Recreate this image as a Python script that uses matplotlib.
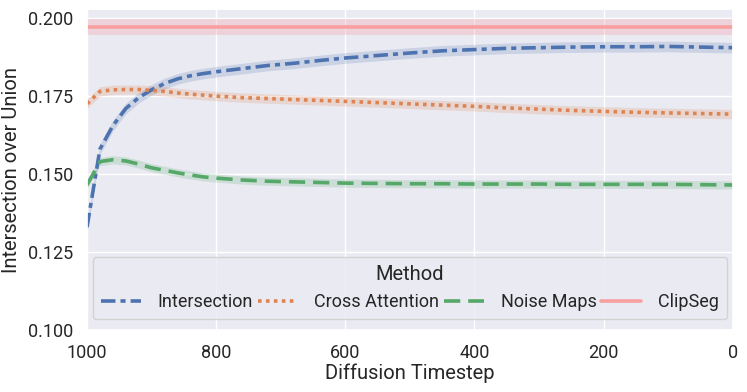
import numpy as np
import matplotlib
matplotlib.use("Agg")
import matplotlib.pyplot as plt
import seaborn as sns

sns.set_theme(style="darkgrid")
plt.rcParams['font.family'] = ['Roboto', 'DejaVu Sans']

# timesteps (x axis runs 1000 -> 0)
timesteps = [1000, 980, 960, 940, 920, 900, 880, 860, 840, 820, 800, 760, 720, 680,
             640, 600, 550, 500, 450, 400, 350, 300, 250, 200, 150, 100, 50, 0]

iou_intersection = [0.1330, 0.1580, 0.1655, 0.1710, 0.1745, 0.1770, 0.1790, 0.1805,
                    0.1815, 0.1822, 0.1828, 0.1838, 0.1848, 0.1855, 0.1864, 0.1872,
                    0.1880, 0.1888, 0.1895, 0.1899, 0.1903, 0.1905, 0.1907, 0.1908,
                    0.1908, 0.1909, 0.1907, 0.1905]
iou_cross_attn = [0.1725, 0.1765, 0.1770, 0.1771, 0.1771, 0.1768, 0.1765, 0.1760,
                  0.1756, 0.1753, 0.1750, 0.1745, 0.1742, 0.1739, 0.1736, 0.1733,
                  0.1729, 0.1725, 0.1721, 0.1717, 0.1712, 0.1708, 0.1704, 0.1701,
                  0.1698, 0.1696, 0.1694, 0.1692]
iou_noise_maps = [0.1465, 0.1540, 0.1546, 0.1542, 0.1532, 0.1520, 0.1512, 0.1504,
                  0.1497, 0.1491, 0.1487, 0.1481, 0.1477, 0.1475, 0.1473, 0.1471,
                  0.1470, 0.1469, 0.1469, 0.1468, 0.1468, 0.1468, 0.1467, 0.1467,
                  0.1467, 0.1467, 0.1466, 0.1465]
iou_clipseg = 0.1971

# half-width of the shaded confidence bands
err_intersection = 0.0017
err_cross_attn = 0.0015
err_noise_maps = 0.0013
err_clipseg = 0.0025

x_ticks = [1000, 800, 600, 400, 200, 0]
y_ticks = [0.100, 0.125, 0.150, 0.175, 0.200]

pal = sns.color_palette("deep")
clip_color = "#f8a0a0"

fig = plt.figure(figsize=(7.47, 3.92), dpi=100)
ax = fig.add_axes([0.1165, 0.158, 0.8645, 0.819])

t = np.array(timesteps)
series = [
    ("Intersection", iou_intersection, err_intersection, pal[0], (0, (4, 1.4, 1.4, 1.4))),
    ("Cross Attention", iou_cross_attn, err_cross_attn, pal[1], (0, (1, 1.2))),
    ("Noise Maps", iou_noise_maps, err_noise_maps, pal[2], (0, (4.5, 2.2))),
]
for name, vals, err, col, ls in series:
    v = np.array(vals)
    ax.fill_between(t, v - err, v + err, color=col, alpha=0.2, lw=0)
    ax.plot(t, v, color=col, ls=ls, lw=2.6, label=name)

ax.axhspan(iou_clipseg - err_clipseg, iou_clipseg + err_clipseg, color="#f4b6bf", alpha=0.45, lw=0)
ax.axhline(iou_clipseg, color=clip_color, lw=2.6, label="ClipSeg")

ax.set_xlim(1000, 0)
ax.set_ylim(0.100, 0.2029)
ax.set_xticks(x_ticks)
ax.set_yticks(y_ticks)
ax.set_yticklabels([f"{y:.3f}" for y in y_ticks])
ax.tick_params(axis='both', labelsize=13, pad=4)
ax.set_xlabel("Diffusion Timestep", fontsize=14.5, labelpad=1)
ax.set_ylabel("Intersection over Union", fontsize=14.5, labelpad=5)

leg = ax.legend(title="Method", ncol=4, loc="lower center", fontsize=13,
                title_fontsize=14.5, handlelength=2.2, columnspacing=0.25,
                handletextpad=0.95, borderaxespad=0.6, borderpad=0.45, frameon=True)
leg.get_frame().set_facecolor("#eaeaf2")
leg.get_frame().set_edgecolor("#cccccc")

fig.savefig("out.png", dpi=100)
